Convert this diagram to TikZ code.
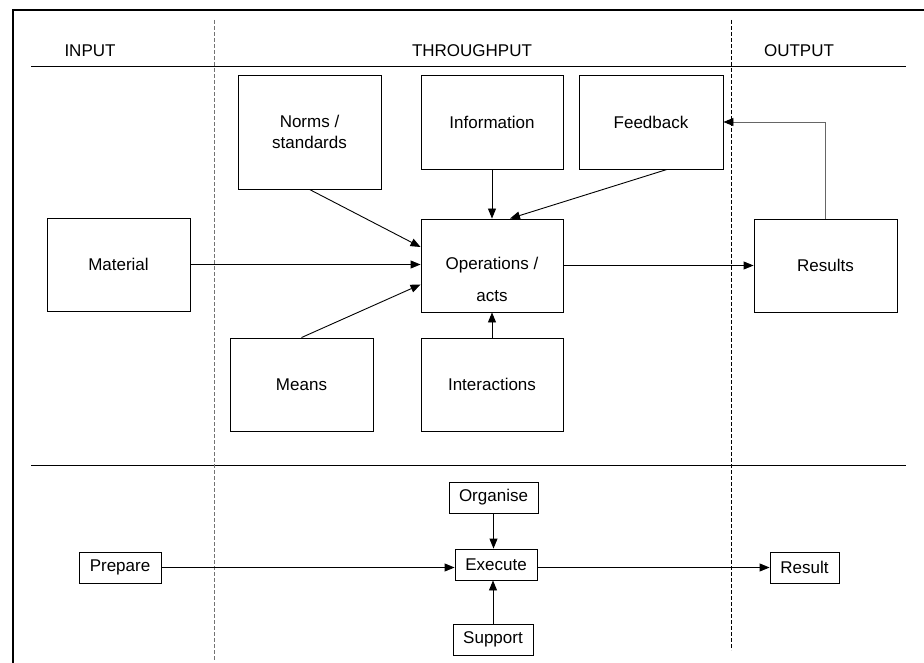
\documentclass[tikz,border=0pt]{standalone}
\usepackage{fontspec}
\setmainfont{Liberation Sans}
\usetikzlibrary{arrows.meta}
\tikzset{
  box/.style={draw=black, line width=0.9pt, inner sep=0pt, align=center,
    font=\fontsize{17}{21}\selectfont},
  bigbox/.style={box, minimum width=143pt, minimum height=93pt},
  smallbox/.style={box, minimum height=31pt},
  txt/.style={inner sep=0pt, font=\fontsize{17}{21}\selectfont},
  conn/.style={line width=0.9pt, -{Triangle[length=10pt,width=8pt]}},
  rule/.style={line width=1pt},
  sep/.style={line width=0.9pt, dash pattern=on 4pt off 2pt},
}
\begin{document}
\begin{tikzpicture}[x=1pt,y=-1pt]
\useasboundingbox (0,0) rectangle (924,663);
% frame
\draw[line width=1.4pt] (13,663) -- (13,10) -- (924,10);
% header and separator rules
\draw[rule] (31,67) -- (906,67);
\draw[rule] (31,465) -- (906,465);
% dashed column separators
\draw[sep, draw=black!55] (214,20) -- (214,661);
\draw[sep] (731,20) -- (731,650);
% headers
\node[txt] (hin) at (90,51) {INPUT};
\node[txt] (hthr) at (472,51) {THROUGHPUT};
\node[txt] (hout) at (799,51) {OUTPUT};
% upper boxes
\node[box, minimum width=143pt, minimum height=114pt] (norms) at (309.5,132) {Norms /\\standards};
\node[box, minimum width=142pt, minimum height=94pt] (info) at (492,122) {Information};
\node[box, minimum width=144pt, minimum height=94pt] (feedback) at (651,122) {Feedback};
\node[bigbox] (material) at (118.5,264.5) {Material};
\node[box, minimum width=142pt, minimum height=93pt] (ops) at (492,265.5) {};
\node[txt] (opsA) at (ops.center) {Operations /};
\node[txt] (opsB) at ([yshift=-31pt]ops.center) {acts};
\node[bigbox] (results) at (825.5,265.5) {Results};
\node[bigbox] (means) at (301.5,384.5) {Means};
\node[box, minimum width=142pt, minimum height=93pt] (inter) at (492,384.5) {Interactions};
% upper connectors
\draw[conn] (norms.south) -- ([yshift=18.5pt]ops.west);
\draw[conn] (material.east) -- (material.east -| ops.west);
\draw[conn] (means.north) -- ([yshift=-19pt]ops.west);
\draw[conn] (info.south) -- (ops.north);
\draw[conn] ([xshift=16pt]feedback.south) -- ([xshift=18pt]ops.north);
\draw[conn] (inter.north) -- (ops.south);
\draw[conn] (ops.east) -- (results.west);
\draw[line width=0.9pt, draw=black!60, -{Triangle[length=10pt,width=8pt,color=black]}] (results.north) |- (feedback.east);
% lower boxes
\node[smallbox, minimum width=89pt] (organise) at (493.5,497.5) {Organise};
\node[smallbox, minimum width=82pt] (execute) at (496,564.5) {Execute};
\node[smallbox, minimum width=80pt] (support) at (493,639.5) {Support};
\node[smallbox, minimum width=82pt] (prepare) at (120,567.5) {Prepare};
\node[smallbox, minimum width=69pt] (result) at (804.5,567.5) {Result};
% lower connectors
\draw[conn] (prepare.east) -- (prepare.east -| execute.west);
\draw[conn] (execute.east |- result.west) -- (result.west);
\draw[conn] (organise.south) -- (organise.south |- execute.north);
\draw[conn] (support.north) -- (support.north |- execute.south);
\end{tikzpicture}
\end{document}
